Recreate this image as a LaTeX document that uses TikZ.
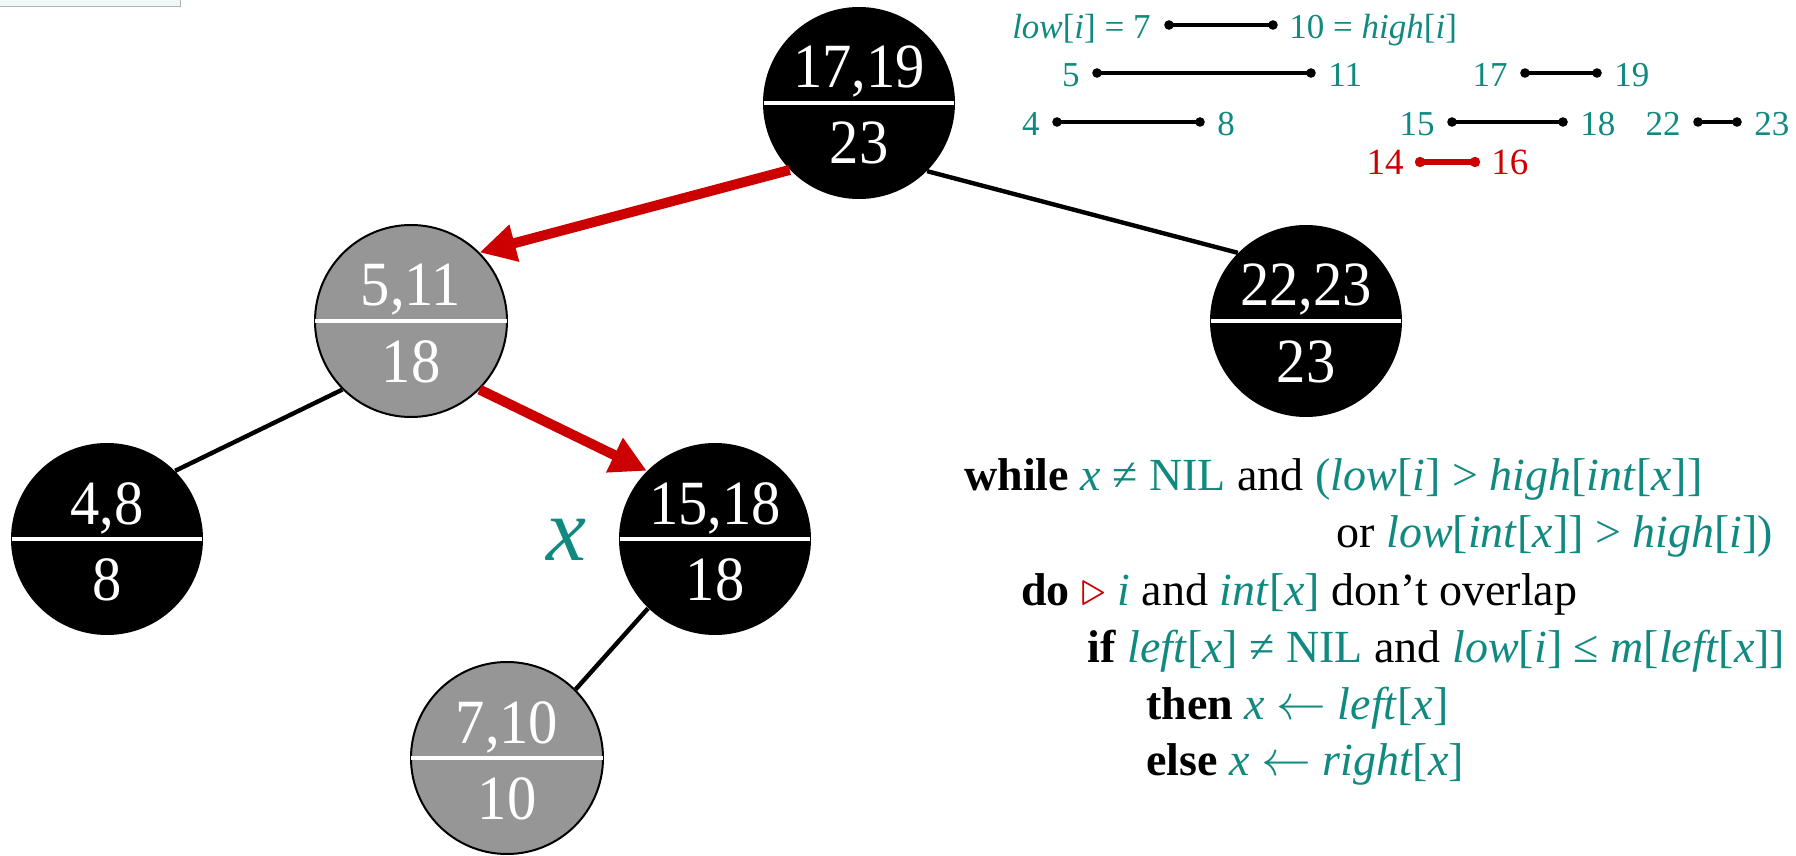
\documentclass[tikz,border=0pt]{standalone}
\usepackage{fontspec}
\setmainfont{Liberation Serif}
\newfontfamily\numfont{Liberation Serif}[FakeStretch=0.93]
\usetikzlibrary{arrows.meta}
\definecolor{tteal}{RGB}{16,138,128}
\definecolor{tred}{RGB}{204,0,0}
\definecolor{tgray}{RGB}{150,150,150}
\newcommand{\tl}[1]{\textcolor{tteal}{#1}}

\begin{document}
\begin{tikzpicture}[x=0.5pt,y=-0.5pt,
  tn/.style={circle, fill=black, minimum size=96pt, inner sep=0pt},
  gn/.style={tn, fill=tgray, draw=black, line width=1pt},
  num/.style={text=white, font=\numfont\fontsize{31.5}{32}\selectfont, anchor=base, inner sep=0pt},
  bar/.style={white, line width=2pt, shorten <=0.5pt, shorten >=0.5pt},
  edge/.style={line width=2.2pt},
  hot/.style={tred, line width=5pt, -{Triangle[length=18pt,width=18pt]}},
  ivl/.style={line width=2pt},
  lbl/.style={text=tteal, inner sep=0pt, font=\fontsize{17.5}{20}\selectfont},
  code/.style={anchor=base west, inner sep=0pt, font=\fontsize{23}{26}\selectfont}]

\useasboundingbox (0,0) rectangle (1796,856);
\draw[gray!60, fill=teal!6] (-2,-2) rectangle (180,6);

%tree nodes
\foreach \n/\x/\y/\s/\lo/\hi/\mx in {n1719/859/103/tn/17/19/23, n511/411/321/gn/5/11/18,
  n2223/1306/321/tn/22/23/23, n48/107/539/tn/4/8/8, n1518/715/539/tn/15/18/18, n710/507/758/gn/7/10/10}{
  \node[\s] (\n) at (\x,\y) {};
  \draw[bar] (\n.west) -- (\n.east);
  \node[num] (\n-t) at ([yshift=7.5pt]\n.center) {\lo,\hi};
  \node[num] (\n-b) at ([yshift=-30.5pt]\n.center) {\mx};
}

%edges
\draw[hot] (n1719.224) -- (n511.45);
\draw[edge] (n1719.-45) -- (n2223.135);
\draw[edge] (n511.225) -- (n48.45);
\draw[hot] (n511.-45) -- (n1518.135);
\draw[edge] (n1518.226) -- (n710.45);

\node[text=tteal, inner sep=0pt, font=\fontsize{45}{45}\selectfont\itshape] (xlbl) at (566,540) {x};

%intervals
\foreach \n/\a/\b/\y in {ia/1169/1273/25, ib/1097/1311/73, ic/1525/1597/73,
  id/1057/1200/122, ie/1452/1563/122, if/1698/1737/122}{
  \coordinate (\n1) at (\a,\y);
  \coordinate (\n2) at (\b,\y);
  \draw[ivl] (\n1) -- (\n2);
  \fill (\n1) circle (2.4pt) (\n2) circle (2.4pt);
}
\node[lbl, anchor=base east] (ia-l) at ([xshift=-9pt,yshift=-7pt]ia1) {\textit{low}[\textit{i}] = 7};
\node[lbl, anchor=base west] (ia-r) at ([xshift=8pt,yshift=-7pt]ia2) {10 = \textit{high}[\textit{i}]};
\foreach \n/\lo/\hi in {ib/5/11, ic/17/19, id/4/8, ie/15/18, if/22/23}{
  \node[lbl, anchor=base east] (\n-l) at ([xshift=-8.5pt,yshift=-7pt]\n1) {\lo};
  \node[lbl, anchor=base west] (\n-r) at ([xshift=8.5pt,yshift=-7pt]\n2) {\hi};
}
\coordinate (ig1) at (1420,162);
\coordinate (ig2) at (1475,162);
\draw[tred, line width=3pt] (ig1) -- (ig2);
\fill[tred] (ig1) circle (2.6pt) (ig2) circle (2.6pt);
\node[lbl, anchor=base east, text=tred, font=\fontsize{18.5}{20}\selectfont] (ig-l) at ([xshift=-8pt,yshift=-6.5pt]ig1) {14};
\node[lbl, anchor=base west, text=tred, font=\fontsize{18.5}{20}\selectfont] (ig-r) at ([xshift=8pt,yshift=-6.5pt]ig2) {16};

%pseudocode
\node[code] (l1) at (964,490) {\textbf{while} \tl{\textit{x} ≠ NIL} and \tl{(\textit{low}[\textit{i}] > \textit{high}[\textit{int}[\textit{x}]]}};
\node[code] (l2) at (1336,547) {or \tl{\textit{low}[\textit{int}[\textit{x}]] > \textit{high}[\textit{i}])}};
\node[code] (l3) at (1021,605) {\textbf{do} \textcolor{tred}{$\triangleright$} \tl{\textit{i}} and \tl{\textit{int}[\textit{x}]} don’t overlap};
\node[code] (l4) at (1087,662) {\textbf{if} \tl{\textit{left}[\textit{x}] ≠ NIL} and \tl{\textit{low}[\textit{i}] ≤ \textit{m}[\textit{left}[\textit{x}]]}};
\node[code] (l5) at (1146,719) {\textbf{then} \tl{\textit{x} $\leftarrow$ \textit{left}[\textit{x}]}};
\node[code] (l6) at (1146,775) {\textbf{else} \tl{\textit{x} $\leftarrow$ \textit{right}[\textit{x}]}};

\end{tikzpicture}
\end{document}
